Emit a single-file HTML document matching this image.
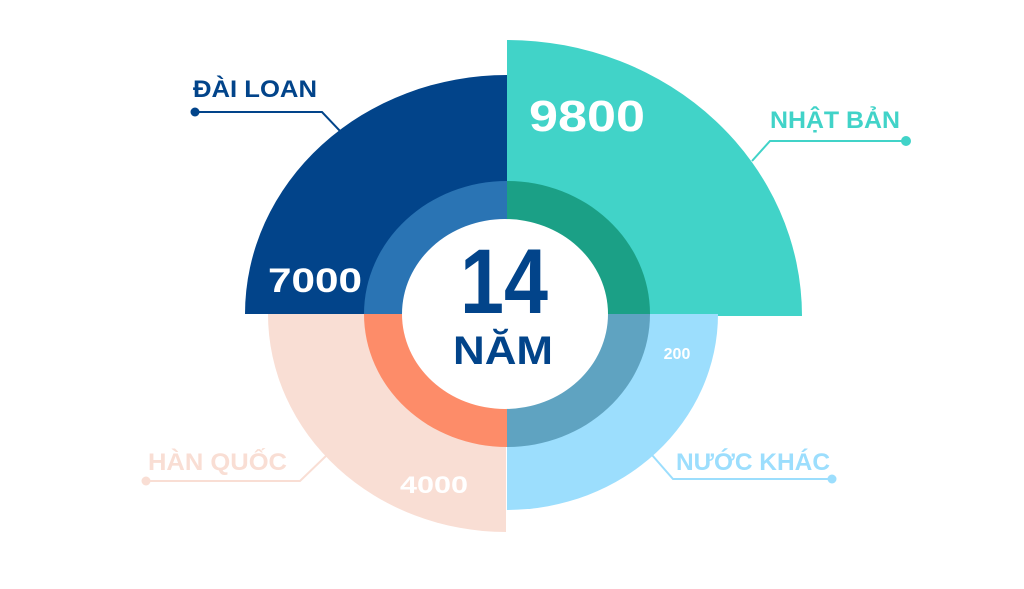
<!DOCTYPE html>
<html><head><meta charset="utf-8"><style>
html,body{margin:0;padding:0;background:#fff;width:1024px;height:589px;overflow:hidden}
text{font-family:"Liberation Sans",sans-serif;font-weight:bold}
</style></head><body>
<svg width="1024" height="589" viewBox="0 0 1024 589" xmlns="http://www.w3.org/2000/svg">
<path d="M507,314 L245,314 A262,239 0 0 1 507,75 Z" fill="#02448a"/>
<path d="M507,316 L507,40 A295,276 0 0 1 802,316 Z" fill="#41d3c8"/>
<path d="M507,314 L718,314 A211,196 0 0 1 507,510 Z" fill="#9cdefd"/>
<path d="M506,314 L506,532 A238,218 0 0 1 268,314 Z" fill="#f9ded4"/>
<path d="M507,314 L364,314 A143,133 0 0 1 507,181 Z" fill="#2a74b4"/>
<path d="M507,314 L507,181 A143,133 0 0 1 650,314 Z" fill="#1ba086"/>
<path d="M507,314 L650,314 A143,133 0 0 1 507,447 Z" fill="#5fa3c1"/>
<path d="M507,314 L507,447 A143,133 0 0 1 364,314 Z" fill="#fd8c69"/>
<ellipse cx="505" cy="314" rx="103" ry="95" fill="#fff"/>
<text x="504" y="313" font-size="92" fill="#02448a" text-anchor="middle" textLength="88" lengthAdjust="spacingAndGlyphs">14</text>
<text x="503" y="364" font-size="40" fill="#02448a" text-anchor="middle" textLength="100" lengthAdjust="spacingAndGlyphs">NĂM</text>
<text x="587" y="131" font-size="44" fill="#fff" text-anchor="middle" textLength="116" lengthAdjust="spacingAndGlyphs">9800</text>
<text x="315" y="292" font-size="34" fill="#fff" text-anchor="middle" textLength="94" lengthAdjust="spacingAndGlyphs">7000</text>
<text x="677" y="359" font-size="16" fill="#fff" text-anchor="middle">200</text>
<text x="434" y="493" font-size="24" fill="#fff" text-anchor="middle" textLength="68" lengthAdjust="spacingAndGlyphs">4000</text>
<text x="193" y="97" font-size="24" fill="#02448a" textLength="124" lengthAdjust="spacingAndGlyphs">ĐÀI LOAN</text>
<polyline points="195,112 322,112 340,131" fill="none" stroke="#02448a" stroke-width="2"/>
<circle cx="195" cy="112" r="4.5" fill="#02448a"/>
<text x="770" y="128" font-size="24" fill="#41d3c8" textLength="130" lengthAdjust="spacingAndGlyphs">NHẬT BẢN</text>
<polyline points="752,161 770,141 906,141" fill="none" stroke="#41d3c8" stroke-width="2"/>
<circle cx="906" cy="141" r="5" fill="#41d3c8"/>
<text x="148" y="470" font-size="24" fill="#f9ded4" textLength="139" lengthAdjust="spacingAndGlyphs">HÀN QUỐC</text>
<polyline points="146,481 300,481 327,455" fill="none" stroke="#f9ded4" stroke-width="2"/>
<circle cx="146" cy="481" r="4.5" fill="#f9ded4"/>
<text x="676" y="470" font-size="24" fill="#9cdefd" textLength="154" lengthAdjust="spacingAndGlyphs">NƯỚC KHÁC</text>
<polyline points="652,455 673,479 832,479" fill="none" stroke="#9cdefd" stroke-width="2"/>
<circle cx="832" cy="479" r="4.5" fill="#9cdefd"/>
</svg>
</body></html>
